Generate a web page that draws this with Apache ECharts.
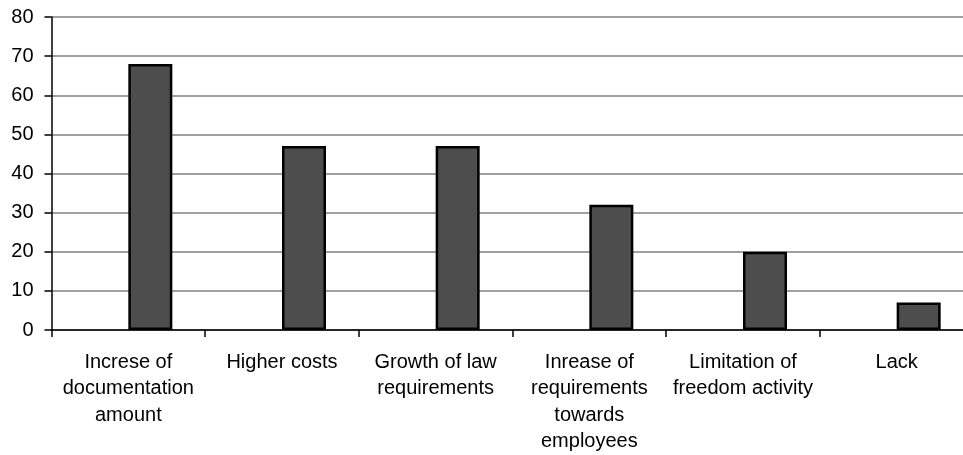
<!DOCTYPE html>
<html>
<head>
<meta charset="utf-8">
<script src="https://cdn.jsdelivr.net/npm/echarts@6/dist/echarts.min.js"></script>
<style>
html,body{margin:0;padding:0;background:#fff;overflow:hidden;width:963px;height:455px;}
#chart{width:980px;height:455px;}
</style>
</head>
<body>
<div id="chart"></div>
<script>
var categories = [
  'Increse of\ndocumentation\namount',
  'Higher costs',
  'Growth of law\nrequirements',
  'Inrease of\nrequirements\ntowards\nemployees',
  'Limitation of\nfreedom activity',
  'Lack'
];
var values = [68, 47, 47, 32, 20, 7];
var yTicks = { min: 0, max: 80, interval: 10 };

var chart = echarts.init(document.getElementById('chart'), null, { renderer: 'canvas' });
var font = 'Liberation Sans, Arial, sans-serif';
chart.setOption({
  animation: false,
  backgroundColor: '#ffffff',
  grid: { left: 51.5, top: 17, width: 922, height: 313, containLabel: false },
  xAxis: {
    type: 'category',
    data: categories,
    boundaryGap: true,
    axisLine: { show: true, lineStyle: { color: '#000', width: 1.5 } },
    axisTick: { show: true, length: 7, lineStyle: { color: '#000', width: 1.5 } },
    axisLabel: {
      interval: 0,
      color: '#000',
      fontFamily: font,
      fontSize: 20,
      lineHeight: 26.5,
      margin: 19,
      align: 'center'
    },
    splitLine: { show: false }
  },
  yAxis: {
    type: 'value',
    min: yTicks.min,
    max: yTicks.max,
    interval: yTicks.interval,
    axisLine: { show: true, lineStyle: { color: '#000', width: 1.5 } },
    axisTick: { show: true, length: 7, lineStyle: { color: '#000', width: 1.5 } },
    axisLabel: { color: '#000', fontFamily: font, fontSize: 20, margin: 18 },
    splitLine: { show: true, lineStyle: { color: '#808080', width: 1.5 } }
  },
  series: [
    {
      type: 'bar',
      name: 'spacer',
      data: [],
      barWidth: 44,
      barGap: 0
    },
    {
      type: 'bar',
      name: 'values',
      data: values,
      barWidth: 44,
      barGap: 0,
      itemStyle: { color: '#4d4d4d', borderColor: '#000', borderWidth: 2.5 }
    }
  ]
});
</script>
</body>
</html>
